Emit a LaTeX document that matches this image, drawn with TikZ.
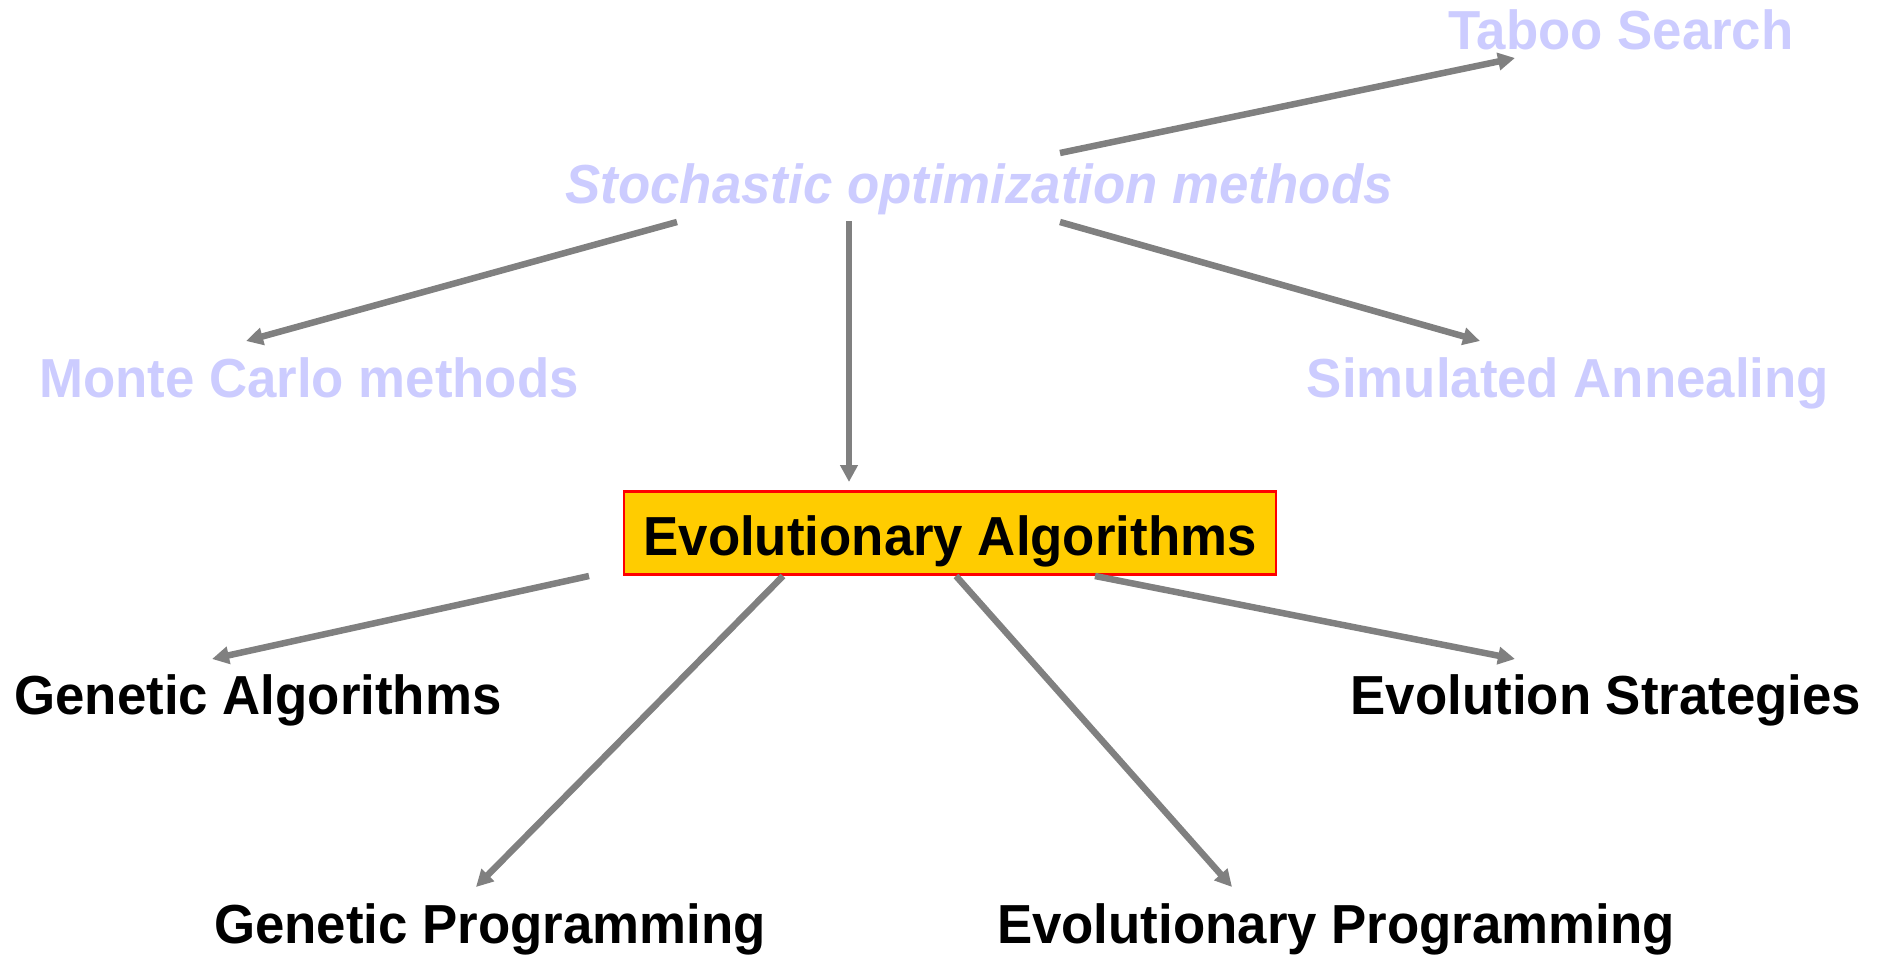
\documentclass[tikz,border=0pt]{standalone}
\usepackage{fontspec}
\setmainfont{Liberation Sans}[FakeStretch=0.96]
\usetikzlibrary{arrows.meta}
\definecolor{faded}{RGB}{204,204,255}
\definecolor{boxfill}{RGB}{255,204,0}
\definecolor{conn}{RGB}{128,128,128}
\tikzset{
  label/.style={inner sep=0pt, anchor=base, font=\fontsize{55}{60}\selectfont\bfseries},
  faint/.style={label, text=faded},
  main/.style={label, text=black},
  hub/.style={draw=red, line width=2.6pt, fill=boxfill, minimum width=652pt, minimum height=83pt, inner sep=0pt,
              text height=44pt, text depth=0pt, font=\fontsize{55}{60}\selectfont\bfseries},
  link/.style={draw=conn, line width=6.5pt, -{Triangle[length=17pt,width=17pt]}}
}
\begin{document}
\begin{tikzpicture}[x=1pt,y=-1pt]
\useasboundingbox (0,0) rectangle (1885,955);

% labels
\node[faint] (taboo) at (1621,50) {Taboo Search};
\node[faint, font=\fontsize{55}{60}\selectfont\bfseries\itshape] (stoch) at (979,204) {Stochastic optimization methods};
\node[faint] (monte) at (309,397) {Monte Carlo methods};
\node[faint] (anneal) at (1568,397) {Simulated Annealing};
\node[hub] (ea) at (950,533) {Evolutionary Algorithms};
\node[main] (ga) at (258,714) {Genetic Algorithms};
\node[main] (es) at (1606,714) {Evolution Strategies};
\node[main] (gp) at (490,943) {Genetic Programming};
\node[main] (ep) at (1336,943) {Evolutionary Programming};

% connector end points
\coordinate (sT) at (1060,153);  \coordinate (tT) at (1515,58);
\coordinate (sM) at (677,222);   \coordinate (tM) at (246,341);
\coordinate (sE) at (849,221);   \coordinate (tE) at (849,482);
\coordinate (sS) at (1060,222);  \coordinate (tS) at (1480,341);
\coordinate (eGA) at (589,576);  \coordinate (tGA) at (212,659);
\coordinate (eGP) at (783,576);  \coordinate (tGP) at (476,887);
\coordinate (eEP) at (956,576);  \coordinate (tEP) at (1232,887);
\coordinate (eES) at (1095,576); \coordinate (tES) at (1515,659);

% connectors
\draw[link] (sT) -- (tT);
\draw[link] (sM) -- (tM);
\draw[link] (sE) -- (tE);
\draw[link] (sS) -- (tS);
\draw[link] (eGA) -- (tGA);
\draw[link] (eGP) -- (tGP);
\draw[link] (eEP) -- (tEP);
\draw[link] (eES) -- (tES);
\end{tikzpicture}
\end{document}
